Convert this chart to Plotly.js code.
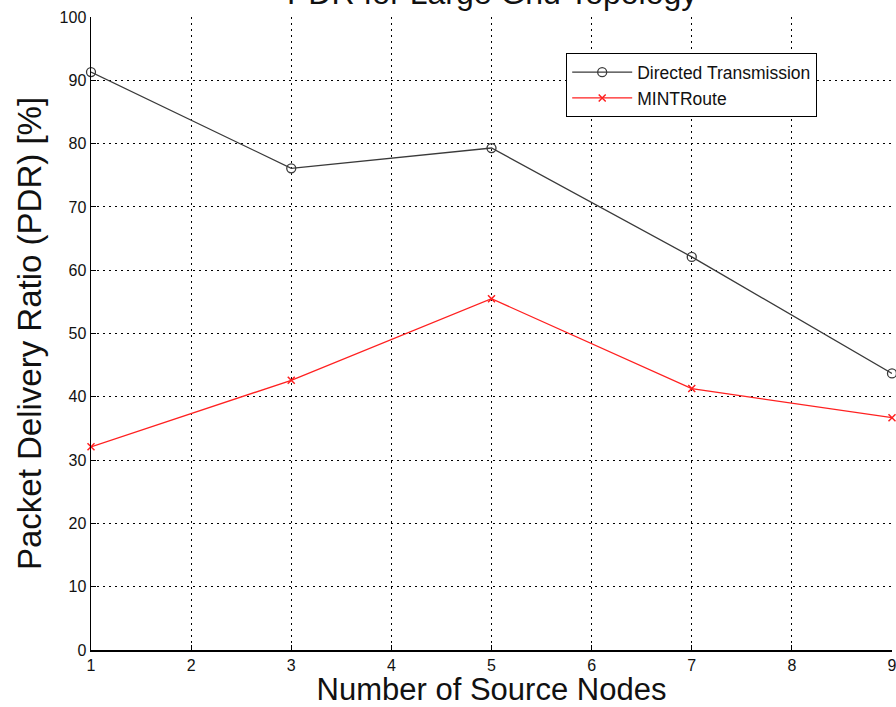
<!DOCTYPE html>
<html>
<head>
<meta charset="utf-8">
<script src="https://cdn.plot.ly/plotly-3.0.1.min.js"></script>
<style>
  html, body { margin: 0; padding: 0; background: #ffffff; }
  #chart { width: 896px; height: 707px; }
</style>
</head>
<body>
<div id="chart"></div>
<script>
// Number of source nodes on the x axis
const sourceNodes = [1, 3, 5, 7, 9];

// Packet delivery ratio in percent for each routing scheme
const directedPDR = [91.3, 76.1, 79.3, 62.1, 43.7];
const mintRoutePDR = [32.1, 42.6, 55.5, 41.3, 36.7];

const seriesNames = ['Directed Transmission', 'MINTRoute'];
const xTicks = [1, 2, 3, 4, 5, 6, 7, 8, 9];
const yTicks = [0, 10, 20, 30, 40, 50, 60, 70, 80, 90, 100];

const chartTitle = 'PDR for Large Grid Topology';
const xTitle = 'Number of Source Nodes';
const yTitle = 'Packet Delivery Ratio (PDR) [%]';

const traces = [
  {
    x: sourceNodes,
    y: directedPDR,
    name: seriesNames[0],
    type: 'scatter',
    mode: 'lines+markers',
    line: { color: '#3a3a3a', width: 1.3 },
    marker: { symbol: 'circle-open', size: 9, color: '#3a3a3a', line: { width: 1.3 } },
    cliponaxis: false
  },
  {
    x: sourceNodes,
    y: mintRoutePDR,
    name: seriesNames[1],
    type: 'scatter',
    mode: 'lines+markers',
    line: { color: '#ff2020', width: 1.3 },
    marker: { symbol: 'x-thin-open', size: 7, color: '#ff2020', line: { width: 1.5, color: '#ff2020' } },
    cliponaxis: false
  }
];

const fontFamily = 'Liberation Sans, Arial, sans-serif';
const tickFont = { family: fontFamily, size: 16, color: '#111' };
const gridDash = '2px,4px';

const layout = {
  width: 896,
  height: 707,
  paper_bgcolor: '#ffffff',
  plot_bgcolor: '#ffffff',
  margin: { l: 91, r: 4, t: 17, b: 57 },
  showlegend: true,
  legend: {
    x: 0.593, y: 0.943, xanchor: 'left', yanchor: 'top',
    bgcolor: '#ffffff',
    bordercolor: '#000000',
    borderwidth: 1.2,
    itemwidth: 60,
    font: { family: fontFamily, size: 17.5, color: '#111' },
    tracegroupgap: 0
  },
  xaxis: {
    range: [1, 9],
    tickvals: xTicks,
    ticktext: xTicks.map(String),
    ticks: 'inside',
    ticklen: 5,
    tickcolor: '#000',
    ticklabeloverflow: 'allow',
    showline: true,
    linecolor: '#000',
    linewidth: 1.5,
    showgrid: true,
    gridcolor: '#000',
    griddash: gridDash,
    gridwidth: 1,
    zeroline: false,
    tickfont: tickFont,
    title: { text: xTitle, font: { family: fontFamily, size: 31, color: '#111' }, standoff: 6 }
  },
  yaxis: {
    range: [0, 100],
    tickvals: yTicks,
    ticktext: yTicks.map(String),
    ticks: 'inside',
    ticklen: 5,
    tickcolor: '#000',
    ticklabeloverflow: 'allow',
    showline: true,
    linecolor: '#000',
    linewidth: 1.5,
    showgrid: true,
    gridcolor: '#000',
    griddash: gridDash,
    gridwidth: 1,
    zeroline: false,
    tickfont: tickFont,
    title: { text: yTitle, font: { family: fontFamily, size: 33, color: '#111' }, standoff: 8 }
  },
  annotations: [
    {
      text: chartTitle,
      xref: 'paper', yref: 'paper',
      x: 0.5, y: 1,
      xanchor: 'center', yanchor: 'bottom',
      yshift: 4,
      showarrow: false,
      font: { family: fontFamily, size: 32, color: '#111' }
    }
  ]
};

Plotly.newPlot('chart', traces, layout, { displayModeBar: false, staticPlot: true });
</script>
</body>
</html>
